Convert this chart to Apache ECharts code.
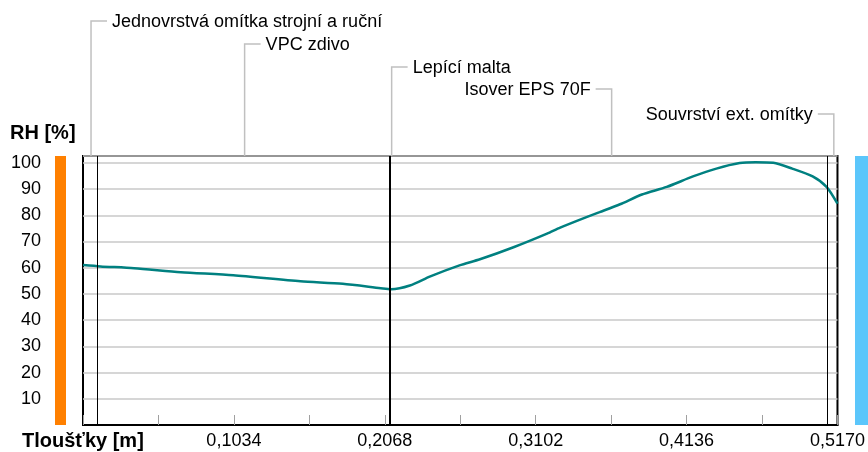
<!DOCTYPE html>
<html><head><meta charset="utf-8">
<script src="https://cdn.jsdelivr.net/npm/echarts@6/dist/echarts.min.js"></script>
<style>html,body{margin:0;padding:0;background:#fff}#c{width:868px;height:452px}</style>
</head><body><div id="c"></div>
<script>
// Data
const thickness = [0, 0.012, 0.035, 0.067, 0.103, 0.149, 0.178, 0.204, 0.211, 0.224, 0.238, 0.258, 0.272, 0.295, 0.318, 0.327, 0.345, 0.354, 0.368, 0.383, 0.400, 0.418, 0.434, 0.450, 0.461, 0.473, 0.486, 0.500, 0.5095, 0.517];
const rh = [61, 60.5, 59.8, 58.3, 57.1, 54.8, 53.9, 52.2, 51.8, 53.2, 56.7, 60.9, 63.2, 67.8, 73.0, 75.3, 79.3, 81.2, 84.2, 87.9, 90.8, 94.8, 97.8, 99.9, 100.2, 100, 97.8, 94.8, 90.8, 84.4];
const layerNames = ['Jednovrstvá omítka strojní a ruční', 'VPC zdivo', 'Lepící malta', 'Isover EPS 70F', 'Souvrství ext. omítky'];
const layerBounds = [0, 0.011, 0.2105, 0.2125, 0.512, 0.517];
const xMax = 0.517;
const xStep = 0.0517;
const yMax = 102.6;
const yTitle = 'RH [%]';
const xTitle = 'Tloušťky [m]';

// Layout / style
const labelY = [21, 44, 67, 89, 114];
const labelSide = ['r', 'r', 'r', 'l', 'l'];
const FONT = 'Liberation Sans';
const G = {left: 83, right: 30, top: 156, bottom: 27};

const chart = echarts.init(document.getElementById('c'));
const innerBounds = layerBounds.slice(1, -1);
const opt = {
  animation: false,
  grid: {left: G.left, right: G.right, top: G.top, bottom: G.bottom, show: true, borderColor: '#000', borderWidth: 2, backgroundColor: 'transparent'},
  xAxis: {
    type: 'value', min: 0, max: xMax, interval: xStep,
    axisLine: {show: true, lineStyle: {color: '#000', width: 2}},
    axisTick: {show: true, inside: true, length: 10, lineStyle: {color: '#a0a0a0', width: 1}},
    splitLine: {show: false},
    axisLabel: {
      fontFamily: FONT, fontSize: 18, color: '#000', margin: 7,
      formatter: v => { const k = Math.round(v / xStep); return (k > 0 && k % 2 === 0) ? v.toFixed(4).replace('.', ',') : ''; }
    }
  },
  yAxis: {
    type: 'value', min: 0, max: yMax, interval: 10,
    axisLine: {show: false}, axisTick: {show: false},
    splitLine: {show: true, lineStyle: {color: '#c8c8c8', width: 1.5}},
    axisLabel: {
      fontFamily: FONT, fontSize: 18, color: '#000', margin: 42, padding: [7, 0, 0, 0],
      formatter: v => (v >= 10 && v <= 100) ? String(Math.round(v)) : ''
    }
  },
  series: [{
    type: 'line', data: thickness.map((x, i) => [x, rh[i]]),
    showSymbol: false, smooth: 0.25,
    lineStyle: {color: '#008080', width: 2.5},
    markLine: {
      silent: true, symbol: 'none', label: {show: false},
      data: innerBounds.map((b, i) => ({xAxis: b, lineStyle: {color: '#000', width: (i === 1 || i === 2) ? 2 : 1, type: 'solid'}}))
    }
  }]
};
chart.setOption(opt);

const H = 452, W = 868;
const gTop = G.top, gBot = H - G.bottom;
const graphics = [];
graphics.push({type: 'rect', shape: {x: 55, y: gTop, width: 11, height: gBot - gTop}, style: {fill: '#ff8000'}});
graphics.push({type: 'rect', shape: {x: 855, y: gTop, width: 13, height: gBot - gTop}, style: {fill: '#5bc6fb'}});
graphics.push({type: 'text', x: 10, y: 133, style: {text: yTitle, font: 'bold 20px ' + FONT, fill: '#000', verticalAlign: 'middle'}});
graphics.push({type: 'text', x: 22, y: 441, style: {text: xTitle, font: 'bold 20px ' + FONT, fill: '#000', verticalAlign: 'middle'}});
layerNames.forEach((name, i) => {
  const mid = (layerBounds[i] + layerBounds[i + 1]) / 2;
  const cx = chart.convertToPixel({xAxisIndex: 0}, mid);
  const ly = labelY[i];
  const dir = labelSide[i] === 'r' ? 1 : -1;
  graphics.push({type: 'polyline', shape: {points: [[cx, gTop], [cx, ly], [cx + dir * 16, ly]]}, style: {stroke: '#c0c0c0', lineWidth: 1.5, fill: null}});
  graphics.push({type: 'text', x: cx + dir * 21, y: ly + 1, style: {text: name, font: '18px ' + FONT, fill: '#000', verticalAlign: 'middle', align: dir === 1 ? 'left' : 'right'}});
});
chart.setOption({graphic: graphics});
</script></body></html>
